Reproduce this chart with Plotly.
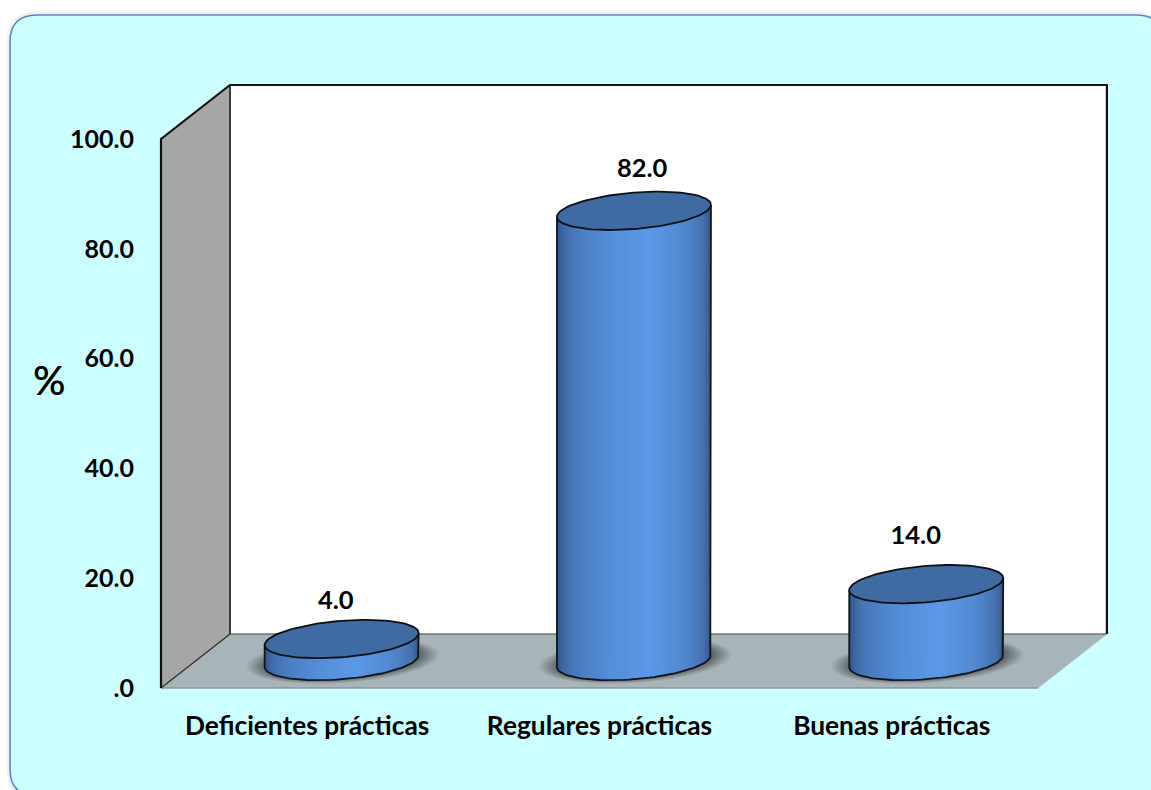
import math
import plotly.graph_objects as go

categories = ["Deficientes prácticas", "Regulares prácticas", "Buenas prácticas"]
values = [4.0, 82.0, 14.0]
y_ticks = [0, 20, 40, 60, 80, 100]
y_tick_labels = [".0", "20.0", "40.0", "60.0", "80.0", "100.0"]

# Page scale of the axes: pixels per category and per percentage point
W, H = 1151, 790
PX_X, PX_Y = 292.3, 5.49
FRONT_LEFT_PX, FLOOR_PX = 161, 688
PAD_X, PAD_Y = 6, 4

# Oblique depth of the box, in axis units
DEPTH_X = 69 / PX_X
DEPTH_Y = 54 / PX_Y
X0, X1 = -0.5, 2.5
Y_TOP = 100.0

# Cylinder cross-section in axis units
RX = 77 / PX_X
RY = 18.2 / PX_Y
TILT = 6 / PX_Y

# Nudges for the value labels: (category units, percentage points)
LABEL_NUDGE = [(-0.02, 3.3), (0.028, 4.05), (-0.036, 5.15)]

WALL_GREY = "#A6A6A6"
FLOOR_GREY = "#A7B4B8"
CAP_BLUE = "#3F6BA2"
PANEL_FILL = "#CCFFFF"
PANEL_EDGE = "#5B87C5"
FONT = "Lato"

# Brightness stops across the cylinder body, from left edge to right edge
BODY_STOPS = [
    (0.00, (44, 76, 120)),
    (0.06, (52, 90, 142)),
    (0.20, (70, 118, 184)),
    (0.40, (84, 142, 216)),
    (0.56, (91, 152, 230)),
    (0.72, (82, 136, 208)),
    (0.86, (68, 112, 172)),
    (0.95, (54, 88, 136)),
    (1.00, (44, 72, 110)),
]


def body_colour(p):
    for (a, ca), (b, cb) in zip(BODY_STOPS, BODY_STOPS[1:]):
        if p <= b:
            f = (p - a) / (b - a)
            return "rgb(%d,%d,%d)" % tuple(round(ca[i] + (cb[i] - ca[i]) * f) for i in range(3))
    return "rgb(44,72,110)"


def ellipse(cx, cy, rx=RX, ry=RY, tilt=TILT, n=96):
    ts = [2 * math.pi * i / n for i in range(n + 1)]
    return (
        [cx + rx * math.cos(t) for t in ts],
        [cy + tilt * math.cos(t) + ry * math.sin(t) for t in ts],
    )


def poly(x, y, fill, line=None, width=0):
    return go.Scatter(
        x=x, y=y, mode="lines", fill="toself", fillcolor=fill,
        line=dict(color=line or "rgba(0,0,0,0)", width=width),
        hoverinfo="skip", showlegend=False,
    )


def path_line(x, y, color, width):
    return go.Scatter(
        x=x, y=y, mode="lines", line=dict(color=color, width=width),
        hoverinfo="skip", showlegend=False,
    )


fig = go.Figure()

# Box: back wall, side wall and floor
fig.add_trace(poly([X0 + DEPTH_X, X1 + DEPTH_X, X1 + DEPTH_X, X0 + DEPTH_X, X0 + DEPTH_X],
                   [DEPTH_Y, DEPTH_Y, Y_TOP + DEPTH_Y, Y_TOP + DEPTH_Y, DEPTH_Y], "#FFFFFF"))
fig.add_trace(poly([X0, X0 + DEPTH_X, X0 + DEPTH_X, X0, X0],
                   [0, DEPTH_Y, Y_TOP + DEPTH_Y, Y_TOP, 0], WALL_GREY))
fig.add_trace(poly([X0, X1, X1 + DEPTH_X, X0 + DEPTH_X, X0],
                   [0, 0, DEPTH_Y, DEPTH_Y, 0], FLOOR_GREY))
fig.add_trace(path_line([X0 + DEPTH_X, X1 + DEPTH_X], [DEPTH_Y, DEPTH_Y], "#6E7476", 1.5))
fig.add_trace(path_line([X0, X1], [0, 0], "#8C9598", 1.5))
fig.add_trace(path_line([X1, X1 + DEPTH_X], [0, DEPTH_Y], "#B4BEC1", 1))
fig.add_trace(path_line([X0 + DEPTH_X, X0 + DEPTH_X], [DEPTH_Y, Y_TOP + DEPTH_Y], "#3C3C3C", 2))
fig.add_trace(path_line([X0, X0 + DEPTH_X], [0, DEPTH_Y], "#2A2A2A", 1.2))
fig.add_trace(path_line([X0, X0, X0 + DEPTH_X, X1 + DEPTH_X, X1 + DEPTH_X],
                        [0, Y_TOP, Y_TOP + DEPTH_Y, Y_TOP + DEPTH_Y, DEPTH_Y], "#111111", 2.2))

# One cylinder per category, standing halfway back on the floor
for i, v in enumerate(values):
    cx = i + DEPTH_X / 2
    base = DEPTH_Y / 2
    top = base + v

    # Soft contact shadow: outer layers are spaced wider so the edge fades out
    layers = 20
    for k in range(layers):
        f = (1 - k / layers) ** 1.6
        sx, sy = ellipse(cx + 0.004, base + 0.1, RX * (0.96 + 0.29 * f), RY * (0.96 + 0.28 * f), TILT)
        fig.add_trace(poly(sx, sy, "rgba(20,24,26,0.042)"))

    # Body: left-to-right overlapping slices give the horizontal shading
    n_slices = 76
    for s in range(n_slices):
        p = s / n_slices
        start = math.pi * (1 - p)
        ts = [start * j / 30 for j in range(31)]
        xs_low = [cx + RX * math.cos(t) for t in ts]
        y_low = [base + TILT * math.cos(t) - RY * math.sin(t) for t in ts]
        y_up = [top + TILT * math.cos(t) for t in ts]
        fig.add_trace(poly(xs_low + xs_low[::-1] + [xs_low[0]],
                           y_low + y_up[::-1] + [y_low[0]],
                           body_colour((s + 0.5) / n_slices)))

    # Outline of the sides and the lower rim
    ts = [math.pi * j / 48 for j in range(49)]
    rim_x = [cx + RX * math.cos(t) for t in ts]
    rim_y = [base + TILT * math.cos(t) - RY * math.sin(t) for t in ts]
    fig.add_trace(path_line([cx + RX] + rim_x + [cx - RX],
                            [top + TILT] + rim_y + [top - TILT], "#12161C", 1.8))

    # Cap
    ex, ey = ellipse(cx, top)
    fig.add_trace(poly(ex, ey, CAP_BLUE, "#0C1016", 1.8))

# Value labels
fig.add_trace(go.Scatter(
    x=[i + DEPTH_X / 2 + LABEL_NUDGE[i][0] for i in range(len(values))],
    y=[v + DEPTH_Y / 2 + RY + LABEL_NUDGE[i][1] for i, v in enumerate(values)],
    mode="text",
    text=[f"{v:.1f}" for v in values],
    textposition="middle center",
    textfont=dict(family=FONT, size=25.5, color="#000000", weight=700),
    hoverinfo="skip", showlegend=False,
))

# Plot area placement on the page
left_px = FRONT_LEFT_PX - PAD_X
right_px = FRONT_LEFT_PX + (X1 - X0 + DEPTH_X) * PX_X + PAD_X
bottom_px = FLOOR_PX + PAD_Y
top_px = FLOOR_PX - (Y_TOP + DEPTH_Y) * PX_Y - PAD_Y


def paper_x(px):
    return px / W


def paper_y(py):
    return 1 - py / H


def panel_path(l, t, r, b, rad):
    pts = [
        ("M", l + rad, t), ("L", r - rad, t), ("Q", r, t, r, t + rad),
        ("L", r, b - rad), ("Q", r, b, r - rad, b), ("L", l + rad, b),
        ("Q", l, b, l, b - rad), ("L", l, t + rad), ("Q", l, t, l + rad, t),
    ]
    out = []
    for p in pts:
        nums = []
        for j, val in enumerate(p[1:]):
            nums.append(f"{paper_x(val) if j % 2 == 0 else paper_y(val):.6f}")
        out.append(p[0] + " " + " ".join(nums))
    return " ".join(out) + " Z"


panel = panel_path(10, 15, 1163, 796, 27)
shapes = [
    dict(type="path", xref="paper", yref="paper", path=panel, layer="below",
         line=dict(color="rgba(0,0,0,0.05)", width=7), fillcolor="rgba(0,0,0,0)"),
    dict(type="path", xref="paper", yref="paper", path=panel, layer="below",
         line=dict(color=PANEL_EDGE, width=1.6), fillcolor=PANEL_FILL),
]

fig.update_layout(
    width=W, height=H,
    margin=dict(l=0, r=0, t=0, b=0),
    paper_bgcolor="#FFFFFF",
    plot_bgcolor="rgba(0,0,0,0)",
    shapes=shapes,
    showlegend=False,
    xaxis=dict(
        domain=[left_px / W, right_px / W],
        range=[X0 - PAD_X / PX_X, X1 + DEPTH_X + PAD_X / PX_X],
        automargin=False,
        tickmode="array", tickvals=list(range(len(categories))), ticktext=categories,
        ticks="outside", ticklen=10, tickcolor="rgba(0,0,0,0)",
        tickfont=dict(family=FONT, size=26.3, color="#000000", weight=700),
        showgrid=False, zeroline=False, showline=False,
    ),
    yaxis=dict(
        domain=[(H - bottom_px) / H, (H - top_px) / H],
        range=[-PAD_Y / PX_Y, Y_TOP + DEPTH_Y + PAD_Y / PX_Y],
        automargin=False,
        tickmode="array", tickvals=y_ticks, ticktext=y_tick_labels,
        ticks="outside", ticklen=15, tickcolor="rgba(0,0,0,0)",
        tickfont=dict(family=FONT, size=25, color="#000000", weight=700),
        showgrid=False, zeroline=False, showline=False,
    ),
    annotations=[dict(
        text="%", xref="paper", yref="paper",
        x=paper_x(49), y=paper_y(380), xanchor="center", yanchor="middle",
        showarrow=False,
        font=dict(family=FONT, size=40, color="#000000", shadow="0.6px 0 0 #000000"),
    )],
)

fig.write_html("out.html", config=dict(displayModeBar=False))
